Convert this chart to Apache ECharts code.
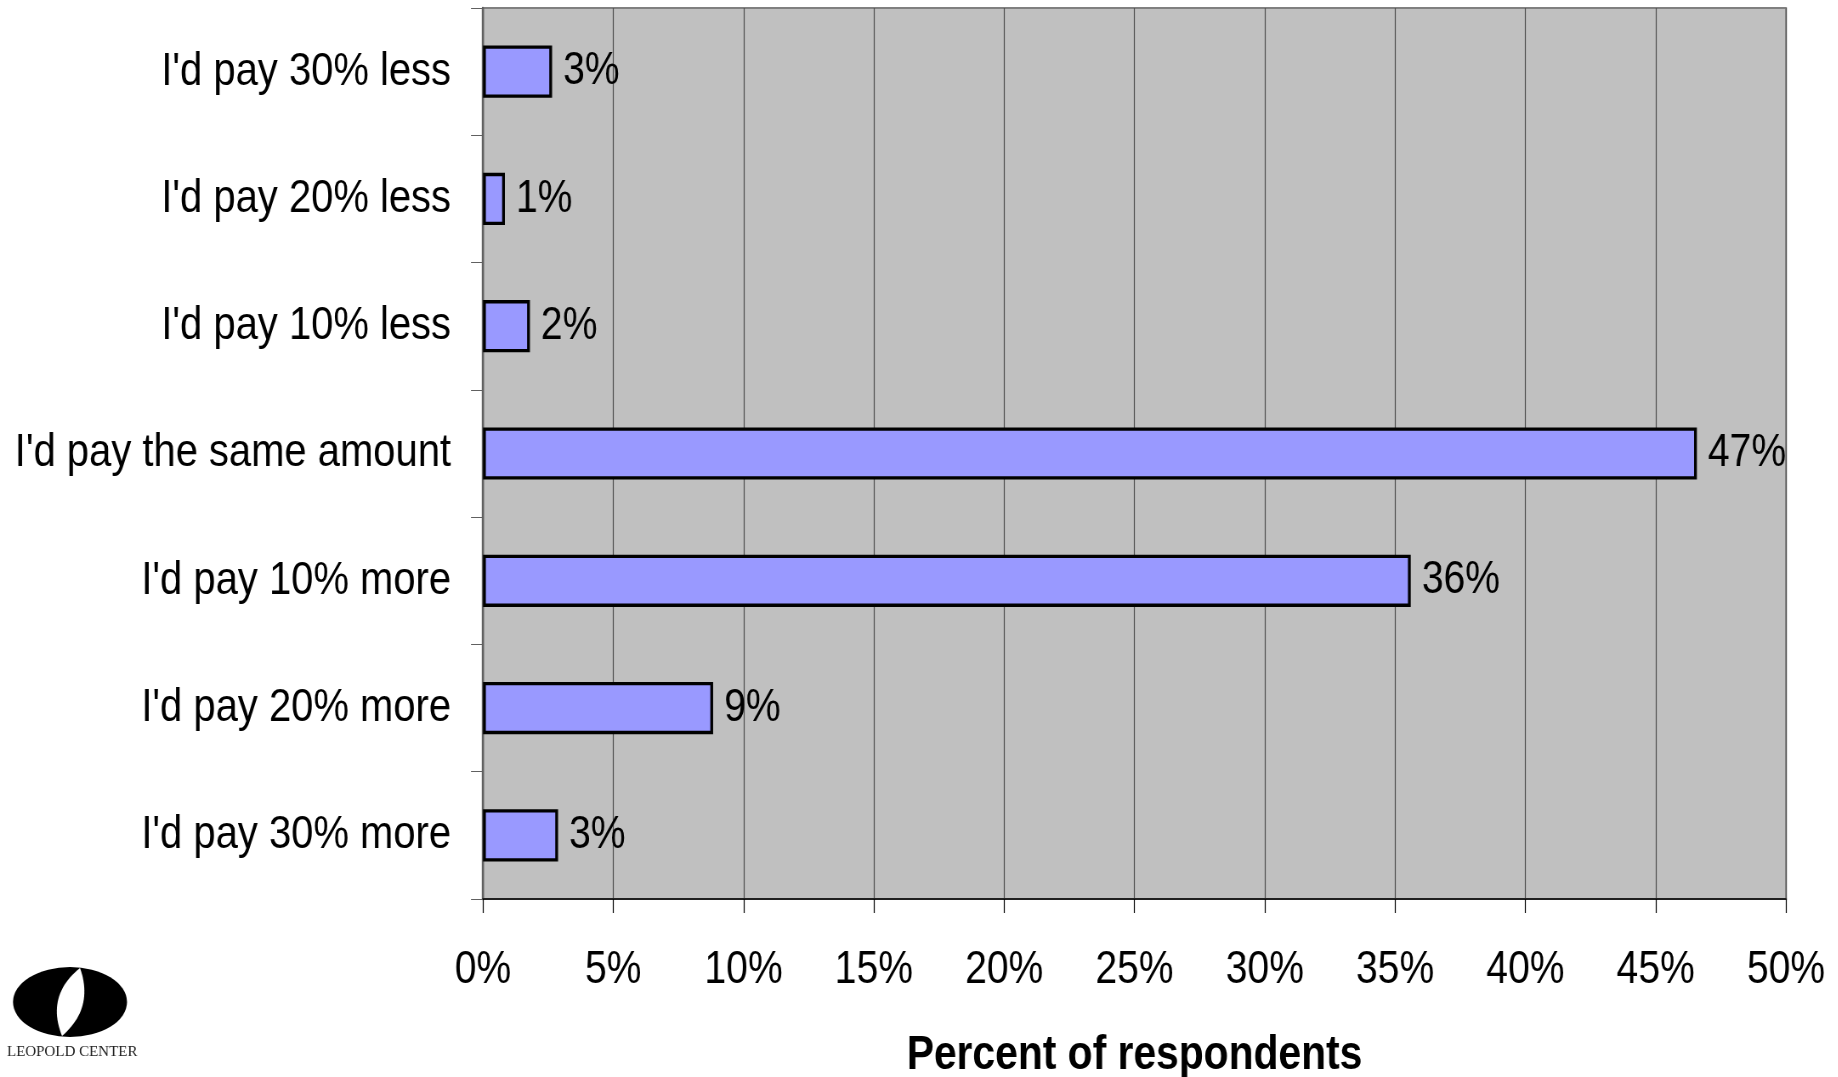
<!DOCTYPE html>
<html>
<head>
<meta charset="utf-8">
<title>Percent of respondents</title>
<script src="https://cdn.jsdelivr.net/npm/echarts@6/dist/echarts.min.js"></script>
<style>
  html, body { margin: 0; padding: 0; background: #ffffff; overflow: hidden; }
  #wrap { width: 1838px; height: 1077px; overflow: hidden; position: relative; }
  /* The chart is laid out wider and condensed horizontally, giving the
     narrow sans-serif look of the labels */
  #chart { position: absolute; left: 0; top: 0; height: 1077px; transform-origin: 0 0; }
</style>
</head>
<body>
<div id="wrap"><div id="chart"></div></div>
<script>
// Answer categories, top to bottom
const categories = [
  "I'd pay 30% less",
  "I'd pay 20% less",
  "I'd pay 10% less",
  "I'd pay the same amount",
  "I'd pay 10% more",
  "I'd pay 20% more",
  "I'd pay 30% more"
];

// Share of respondents for each answer (percent)
const percentValues = [2.65, 0.84, 1.80, 46.58, 35.6, 8.83, 2.88];

// Value axis range and step (percent)
const axisMin = 0;
const axisMax = 50;
const axisStep = 5;

const axisTitle = 'Percent of respondents';

// Horizontal condensing factor and the resulting layout width
const SX = 0.85;
const PAGE_W = 1838;
const PAGE_H = 1077;
const layoutW = PAGE_W / SX;
const hx = (px) => px / SX;   // convert on-screen horizontal pixels to layout pixels

const el = document.getElementById('chart');
el.style.width = layoutW + 'px';
el.style.transform = 'scaleX(' + SX + ')';

const FONT = '"Liberation Sans", Arial, Helvetica, sans-serif';

// Outline of the light lens crossing the emblem (on-screen pixels)
function lensPoints() {
  const top = [80, 968], bottom = [62, 1036];
  const dx = bottom[0] - top[0], dy = bottom[1] - top[1];
  const len = Math.hypot(dx, dy);
  const nx = dy / len, ny = -dx / len;
  const pts = [];
  const steps = 24;
  for (let i = 0; i <= steps; i++) {          // right edge, top to bottom
    const t = i / steps, b = 12 * 4 * t * (1 - t);
    pts.push([top[0] + dx * t + nx * b, top[1] + dy * t + ny * b]);
  }
  for (let i = steps - 1; i > 0; i--) {       // left edge, bottom to top
    const t = i / steps, b = -13 * 4 * t * (1 - t);
    pts.push([top[0] + dx * t + nx * b, top[1] + dy * t + ny * b]);
  }
  return pts;
}

const chart = echarts.init(el, null, { renderer: 'canvas', width: layoutW, height: PAGE_H });

chart.setOption({
  backgroundColor: '#ffffff',
  animation: false,
  grid: {
    left: hx(483),
    right: hx(52),
    top: 8,
    bottom: 178,
    containLabel: false,
    outerBoundsMode: 'none',
    show: true,
    backgroundColor: '#C0C0C0',
    borderColor: '#808080',
    borderWidth: 2
  },
  xAxis: {
    type: 'value',
    min: axisMin,
    max: axisMax,
    interval: axisStep,
    name: axisTitle,
    nameLocation: 'middle',
    nameGap: 133,
    nameTextStyle: {
      fontFamily: FONT,
      fontSize: 48,
      fontWeight: 'bold',
      color: '#000000'
    },
    axisLine: { show: true, lineStyle: { color: '#202020', width: 2 } },
    axisTick: { show: true, length: 14, lineStyle: { color: '#000000', width: 1.2 } },
    axisLabel: {
      formatter: '{value}%',
      fontFamily: FONT,
      fontSize: 46,
      lineHeight: 46,
      color: '#000000',
      margin: 48
    },
    splitLine: { show: true, lineStyle: { color: '#4d4d4d', width: 1.2 } }
  },
  yAxis: {
    type: 'category',
    inverse: true,
    data: categories,
    axisLine: { show: true, lineStyle: { color: '#606060', width: 2.4 } },
    axisTick: { show: true, length: hx(12), lineStyle: { color: '#606060', width: 1 } },
    axisLabel: {
      fontFamily: FONT,
      fontSize: 47,
      color: '#000000',
      margin: hx(32)
    },
    splitLine: { show: false }
  },
  series: [{
    type: 'bar',
    data: percentValues,
    barCategoryGap: '59%',
    itemStyle: {
      color: '#9999FF',
      borderColor: '#000000',
      borderWidth: 3.3
    },
    label: {
      show: true,
      position: 'right',
      distance: hx(11),
      formatter: (p) => Math.round(p.value) + '%',
      fontFamily: FONT,
      fontSize: 46,
      color: '#000000'
    }
  }],
  graphic: [{
    // Leopold Center emblem, drawn in on-screen pixels
    type: 'group',
    x: 0,
    y: 0,
    scaleX: 1 / SX,
    children: [
      {
        type: 'circle',
        x: 70,
        y: 1002,
        shape: { cx: 0, cy: 0, r: 35 },
        scaleX: 57 / 35,
        style: { fill: '#000000' }
      },
      {
        type: 'polygon',
        shape: { points: lensPoints() },
        style: { fill: '#ffffff' }
      },
      {
        type: 'text',
        x: 7,
        y: 1045,
        style: {
          text: 'LEOPOLD CENTER',
          fontFamily: '"Liberation Serif", "DejaVu Serif", serif',
          fontSize: 15,
          fill: '#222222'
        }
      }
    ]
  }]
});
</script>
</body>
</html>
